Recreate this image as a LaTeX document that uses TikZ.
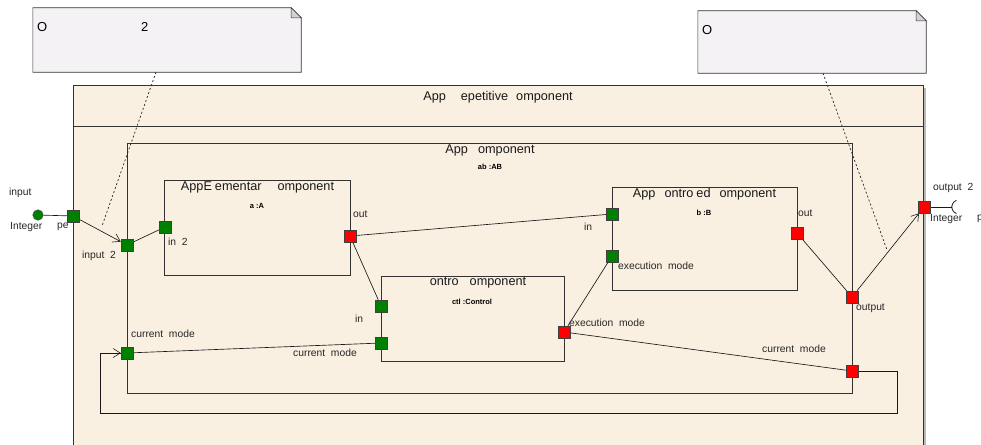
\documentclass[tikz,border=0pt]{standalone}
\usepackage{fontspec}
\setmainfont{Liberation Sans}
\usetikzlibrary{arrows.meta}
\definecolor{cream}{RGB}{250,240,226}
\definecolor{notefill}{RGB}{245,242,246}
\definecolor{edge}{RGB}{50,50,50}
\definecolor{pgreen}{RGB}{0,128,0}
\definecolor{pred}{RGB}{255,0,0}
\begin{document}
\begin{tikzpicture}[x=1pt,y=-1pt,
 box/.style={draw=edge, line width=0.75pt, inner sep=0pt, outer sep=0pt, anchor=north west},
 port/.style={draw=black!75, line width=0.5pt, minimum size=12.5pt, inner sep=0pt, outer sep=0pt},
 gport/.style={port, fill=pgreen},
 rport/.style={port, fill=pred},
 lbl/.style={anchor=west, inner sep=0pt, font=\fontsize{10.3}{12}\selectfont, text=black!85},
 ttl/.style={inner sep=0pt, font=\fontsize{12.7}{14}\selectfont, text=black!90},
 inst/.style={inner sep=0pt, font=\bfseries\fontsize{7.5}{9}\selectfont},
 wire/.style={draw=black!90, line width=0.65pt},
 barb/.style={-{Straight Barb[length=7pt,width=9pt,line width=0.6pt]}},
 notebox/.style={inner sep=0pt, minimum width=#1},
 notetxt/.style={anchor=west, inner sep=0pt, font=\fontsize{13}{15}\selectfont},
 dots/.style={draw=black!85, line width=0.7pt, dash pattern=on 2pt off 2.2pt}
]
\useasboundingbox (0,0) rectangle (981,444);
\clip (0,0) rectangle (981,444);

% notes
\node[notebox=268pt, minimum height=64pt] (n1) at (167,40) {};
\node[notebox=228pt, minimum height=62pt] (n2) at (812,42) {};
\foreach \n in {n1,n2}{
  \filldraw[fill=notefill, draw=black!80, line width=0.6pt] (\n.north west) -- ([xshift=-10pt]\n.north east) -- ([yshift=-10pt]\n.north east) -- (\n.south east) -- (\n.south west) -- cycle;
  \filldraw[fill=gray!35, draw=black!80, line width=0.5pt] ([xshift=-10pt]\n.north east) -- ([xshift=-10pt,yshift=-10pt]\n.north east) -- ([yshift=-10pt]\n.north east) -- cycle;
}
\node[notetxt] (n1a) at (37,27) {O};
\node[notetxt] (n1b) at (141,27) {2};
\node[notetxt] (n2a) at (702,30) {O};

% outer repetitive component
\fill[gray!55] (923,88) rectangle (926,470);
\node[box, fill=cream, minimum width=850pt, minimum height=385pt] (outer) at (73,85) {};
\coordinate (hl) at (73,126);
\coordinate (hr) at (923,126);
\draw[draw=edge, line width=0.75pt] (hl) -- (hr);
\node[ttl] (ttlouter) at (498,97) {App\hspace{15pt}epetitive\hspace{8pt}omponent};

% inner component
\node[box, minimum width=725pt, minimum height=250pt] (inner) at (127,143) {};
\node[ttl] (ttlinner) at (490,150) {App\hspace{10pt}omponent};
\node[inst] (instinner) at (490,167) {ab :AB};

% sub components
\node[box, minimum width=186pt, minimum height=95pt] (A) at (164,180) {};
\node[ttl] (ttlA) at (257.5,187) {AppE\hspace{3pt}ementar\hspace{16pt}omponent};
\node[inst] (instA) at (257,206) {a :A};

\node[box, minimum width=185pt, minimum height=103pt] (B) at (612,187) {};
\node[ttl] (ttlB) at (704.5,194) {App\hspace{9pt}ontro\hspace{3pt}ed\hspace{9pt}omponent};
\node[inst] (instB) at (704,213) {b :B};

\node[box, minimum width=183pt, minimum height=85pt] (ctl) at (381,276) {};
\node[ttl] (ttlctl) at (478,283) {ontro\hspace{11pt}omponent};
\node[inst] (instctl) at (472,302) {ctl :Control};

% ports
\node[circle, fill=pgreen, draw=black!70, line width=0.5pt, minimum size=10.5pt, inner sep=0pt] (ic) at (38,215) {};
\node[gport] (pe) at (73,216) {};
\node[gport] (in2) at (127,245) {};
\node[gport] (ain) at (165,227) {};
\node[rport] (aout) at (350,236) {};
\node[gport] (bin) at (612,214) {};
\node[gport] (bexec) at (612,256) {};
\node[rport] (bout) at (797,233) {};
\node[gport] (ctlin) at (381,306) {};
\node[gport] (ctlcm) at (381,343) {};
\node[rport] (ctlexec) at (564,332) {};
\node[gport] (cmL) at (127,353) {};
\node[rport] (cmR) at (852,371) {};
\node[rport] (outp) at (852,297) {};
\node[rport] (out2) at (924,207) {};

% wires
\draw[wire] (ic) -- (pe);
\draw[wire, barb] (pe) -- (in2);
\draw[wire] (in2) -- (ain);
\draw[wire] (aout) -- (bin);
\draw[wire] (aout) -- (ctlin);
\draw[wire] (bexec) -- (ctlexec);
\draw[wire] (ctlexec) -- (cmR);
\draw[wire] (ctlcm) -- (cmL);
\draw[wire] (bout) -- (outp);
\draw[wire, barb] (outp) -- (out2);
\coordinate (lp2) at (897,413);
\coordinate (lp3) at (100,413);
\draw[wire] (cmR.east) -| (lp2) -- (lp3) |- (cmL.west);
\draw[wire, barb] ([xshift=-8pt]cmL.west) -- (cmL.west);
\coordinate (sk) at (952,207);
\draw[wire] (out2) -- (sk);
\draw[wire, line width=0.8pt] ([xshift=4.4pt,yshift=6.6pt]sk) arc[start angle=110, end angle=250, radius=7pt];

% redraw ports on top
\foreach \p in {pe,in2,ain,bin,bexec,ctlin,ctlcm,cmL}{\node[gport] at (\p) {};}
\foreach \p in {aout,bout,ctlexec,cmR,outp,out2}{\node[rport] at (\p) {};}

% labels
\node[lbl] (l1) at (9,193) {input};
\node[lbl] (l2) at (10,227) {Integer};
\node[lbl] (l3) at (57,227) {pe};
\node[lbl] (l4) at (82,256) {input~~2};
\node[lbl] (l5) at (168,242) {in~~2};
\node[lbl] (l6) at (353,214) {out};
\node[lbl] (l7) at (584,227) {in};
\node[lbl] (l8) at (618,266) {execution~~mode};
\node[lbl] (l9) at (798,213) {out};
\node[lbl] (l10) at (355,319) {in};
\node[lbl] (l11) at (293,353) {current~~mode};
\node[lbl] (l12) at (569,323) {execution~~mode};
\node[lbl] (l13) at (131,334) {current~~mode};
\node[lbl] (l14) at (762,349) {current~~mode};
\node[lbl] (l15) at (856,308) {output};
\node[lbl] (l16) at (933,188) {output~~2};
\node[lbl] (l17) at (930,219) {Integer};
\node[lbl] (l18) at (977,219) {p};

% note anchors
\coordinate (d1) at (102,226);
\coordinate (d2) at (887,250);
\draw[dots] ([xshift=-11pt]n1.south) -- (d1);
\draw[dots] ([xshift=11pt]n2.south) -- (d2);
\end{tikzpicture}
\end{document}
